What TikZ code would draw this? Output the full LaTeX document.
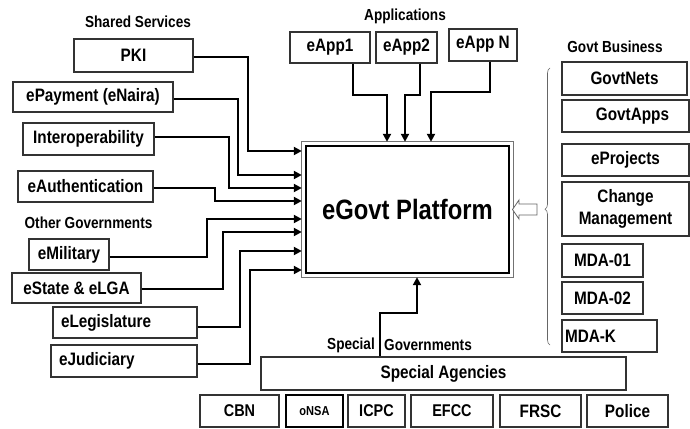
\documentclass[tikz,border=0pt]{standalone}
\usepackage{fontspec}
\setmainfont{Liberation Sans}[FakeStretch=0.85]
\usetikzlibrary{arrows.meta,decorations.pathreplacing,calc}
\begin{document}
\begin{tikzpicture}[x=1pt,y=-1pt,
  box/.style={draw=black!80, line width=1.2pt, inner sep=0pt, align=center,
    font=\bfseries\fontsize{18}{22}\selectfont},
  sbox/.style={box, font=\bfseries\fontsize{17}{20}\selectfont},
  lbl/.style={inner sep=0pt, font=\bfseries\fontsize{16}{18}\selectfont},
  conn/.style={line width=2.2pt, -{Triangle[length=8pt,width=8pt]}, shorten >=3pt},
  bx/.style 2 args={minimum width=#1, minimum height=#2},
  lx/.style 2 args={minimum height=#2, text width=#1-16pt, inner xsep=8pt, align=left}
]
\useasboundingbox (0,0) rectangle (690,428);
\fill[white] (0,0) rectangle (690,428);

% labels
\node[lbl] (lshared) at (138,22) {Shared Services};
\node[lbl] (lapps) at (405,16) {Applications};
\node[lbl] (lgovt) at (615,47) {Govt Business};
\node[lbl] (lother) at (88.5,223) {Other Governments};
\node[lbl] (lspecial) at (351,345) {Special};
\node[lbl] (lgovs) at (428,345) {Governments};

% left boxes
\node[box, bx={119pt}{33pt}] (pki) at (133.5,55.5) {PKI};
\node[box, bx={160pt}{30pt}] (epay) at (93,97) {ePayment (eNaira)};
\node[box, bx={131pt}{32pt}] (interop) at (88.5,139) {Interoperability};
\node[box, bx={135pt}{31pt}] (eauth) at (85.5,186.5) {eAuthentication};
\node[box, bx={80pt}{31pt}] (emil) at (69,254.5) {eMilitary};
\node[box, bx={129pt}{30pt}] (estate) at (76.5,288) {eState \& eLGA};
\node[box, lx={144pt}{31pt}] (elegis) at (125,322.5) {eLegislature};
\node[box, lx={146pt}{32pt}] (ejud) at (124,361) {eJudiciary};

% apps
\node[box, bx={80pt}{31pt}] (app1) at (330,47.5) {eApp1};
\node[box, bx={61pt}{31pt}] (app2) at (406.5,47.5) {eApp2};
\node[box, bx={68pt}{32pt}] (appn) at (483,45) {eApp N\rule[-5pt]{0pt}{0pt}};

% platform
\node[draw=black, line width=2.4pt, minimum width=203pt, minimum height=127pt, inner sep=0pt,
  font=\bfseries\fontsize{28}{30}\selectfont] (plat) at (407.5,209.5) {eGovt Platform};
\draw[black!55, line width=0.9pt] ($(plat.north west)+(-3pt,3pt)$) rectangle ($(plat.south east)+(3pt,-3pt)$);

% govt business
\node[box, bx={125pt}{33pt}] (govtnets) at (624.5,78.5) {GovtNets};
\node[box, bx={127pt}{32pt}] (govtapps) at (625.5,116) {\hspace*{14pt}GovtApps};
\node[box, bx={127pt}{32pt}] (eproj) at (625.5,160) {eProjects};
\node[box, bx={127pt}{54pt}] (change) at (625.5,209) {Change\\Management};
\node[box, bx={81pt}{33pt}] (mda1) at (602.5,260.5) {MDA-01};
\node[box, bx={81pt}{32pt}] (mda2) at (602.5,298) {MDA-02};
\node[box, minimum height=32pt, text width=89pt, inner xsep=3pt, align=left] (mdak) at (609.5,336) {MDA-K};

% brace and hollow arrow
\draw[black!60, line width=0.6pt, decorate, decoration={brace, amplitude=5pt, aspect=0.49}]
  (550,345) -- (550,68);
\draw[black!60, fill=white, line width=0.8pt]
  (537,204) -- (519,204) -- (519,200) -- (512.5,209.5) -- (519,219) -- (519,215) -- (537,215) -- cycle;

% special agencies
\node[box, bx={365pt}{33pt}] (agencies) at (443.5,373.5) {Special Agencies};
\node[sbox, bx={79pt}{32pt}] (cbn) at (239.5,411) {CBN};
\node[sbox, bx={57pt}{32pt}, line width=2pt, draw=black, font=\bfseries\fontsize{13}{15}\selectfont] (onsa) at (314.5,411) {oNSA};
\node[sbox, bx={57pt}{32pt}] (icpc) at (376.5,411) {ICPC};
\node[sbox, bx={82pt}{32pt}] (efcc) at (452,411) {EFCC};
\node[sbox, bx={81pt}{32pt}, font=\bfseries\fontsize{18}{20}\selectfont] (frsc) at (540.5,411) {FRSC};
\node[sbox, bx={81pt}{32pt}, font=\bfseries\fontsize{18}{20}\selectfont] (police) at (627.5,411) {Police};

% connectors from left
\draw[conn] (pki.east |- 0,57) -| (248,151) -- (plat.west |- 248,151);
\draw[conn] (epay.east |- 0,99) -| (238,175) -- (plat.west |- 238,175);
\draw[conn] (interop.east |- 0,137) -| (229,188) -- (plat.west |- 229,188);
\draw[conn] (eauth.east |- 0,188) -| (215,201) -- (plat.west |- 215,201);
\draw[conn] (emil.east |- 0,257) -| (207,219) -- (plat.west |- 207,219);
\draw[conn] (estate.east |- 0,289) -| (223,232) -- (plat.west |- 223,232);
\draw[conn] (elegis.east |- 0,327) -| (240,251) -- (plat.west |- 240,251);
\draw[conn] (ejud.east |- 0,364) -| (250,270) -- (plat.west |- 250,270);

% connectors from apps
\draw[conn] (app1.south -| 353,0) |- (387,95) -- (plat.north -| 387,95);
\draw[conn] (app2.south -| 420,0) |- (405,95) -- (plat.north -| 405,95);
\draw[conn] (appn.south -| 490,0) |- (431,92) -- (plat.north -| 431,92);

% from special agencies
\draw[conn] (agencies.north -| 380,0) |- (417,313) -- (plat.south -| 417,313);
\end{tikzpicture}
\end{document}
